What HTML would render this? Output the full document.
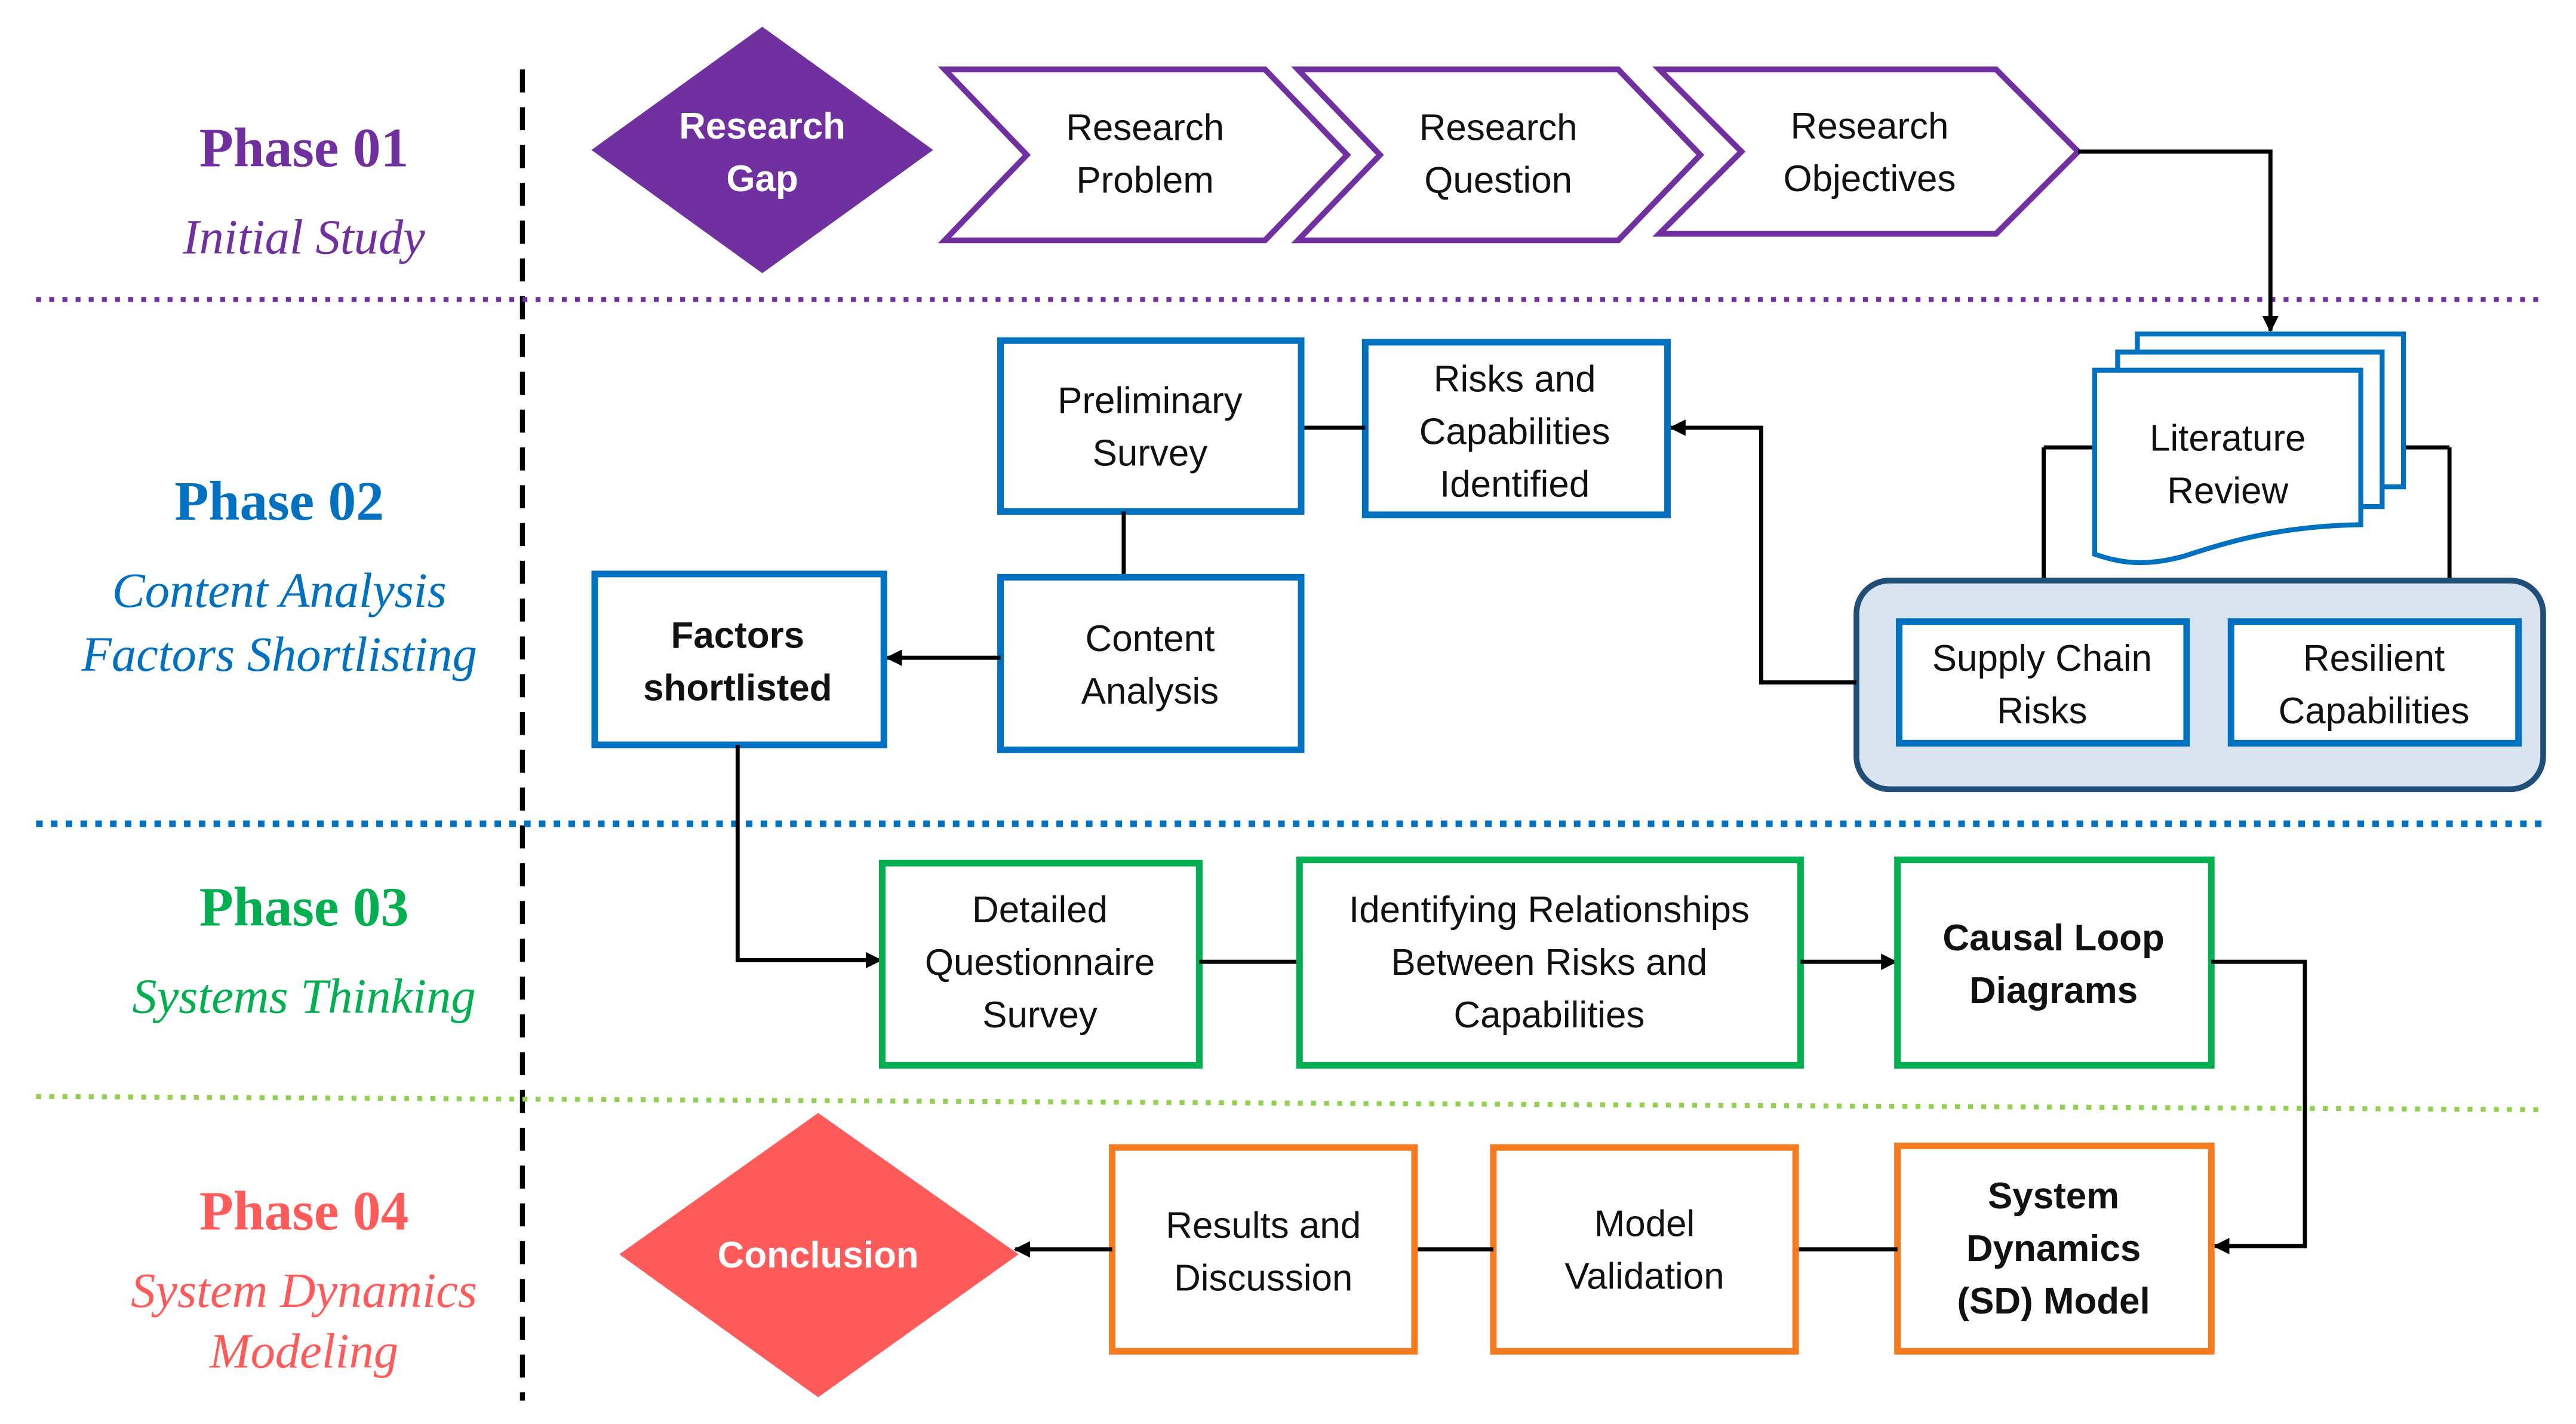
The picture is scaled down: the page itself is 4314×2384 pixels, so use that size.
<!DOCTYPE html>
<html><head><meta charset="utf-8"><style>
html,body{margin:0;padding:0;background:#fff;}
svg{display:block;}
.ph{font-family:"Liberation Serif",serif;font-weight:bold;font-size:34px;text-anchor:middle;}
.sub{font-family:"Liberation Serif",serif;font-style:italic;font-size:30px;text-anchor:middle;}
.t{font-family:"Liberation Sans",sans-serif;font-size:22.5px;text-anchor:middle;fill:#111;}
.b{font-weight:bold;}
</style></head><body>
<svg width="4314" height="2384" viewBox="0 0 1568 866" xmlns="http://www.w3.org/2000/svg">
<defs>
<marker id="ar" markerWidth="10" markerHeight="10" refX="9" refY="5" orient="auto" markerUnits="userSpaceOnUse"><path d="M0,0 L10,5 L0,10 z" fill="#000"/></marker>
</defs>
<rect width="1568" height="866" fill="#fff"/>
<line x1="318" y1="42" x2="318" y2="852" stroke="#000" stroke-width="3" stroke-dasharray="14,9"/>
<line x1="22" y1="182" x2="1548" y2="182" stroke="#7030A0" stroke-width="3" stroke-dasharray="3,5"/>
<line x1="22" y1="501" x2="1548" y2="501" stroke="#0070C0" stroke-width="4" stroke-dasharray="4,5"/>
<line x1="22" y1="667" x2="1548" y2="675" stroke="#92D050" stroke-width="3" stroke-dasharray="3,5"/>
<text class="ph" x="185" y="101" fill="#7030A0">Phase 01</text>
<text class="sub" x="185" y="154" fill="#7030A0">Initial Study</text>
<text class="ph" x="170" y="316" fill="#0070C0">Phase 02</text>
<text class="sub" x="170" y="369" fill="#0070C0">Content Analysis</text>
<text class="sub" x="170" y="408" fill="#0070C0">Factors Shortlisting</text>
<text class="ph" x="185" y="563" fill="#00B050">Phase 03</text>
<text class="sub" x="185" y="616" fill="#00B050">Systems Thinking</text>
<text class="ph" x="185" y="748" fill="#FF5B5B">Phase 04</text>
<text class="sub" x="185" y="795" fill="#FF5B5B">System Dynamics</text>
<text class="sub" x="185" y="832" fill="#FF5B5B">Modeling</text>
<polygon points="360,91 464,16 568,91 464,166" fill="#7030A0"/>
<text class="t b" x="464" y="84" style="fill:#fff">Research</text>
<text class="t b" x="464" y="116" style="fill:#fff">Gap</text>
<polygon points="575,42 770,42 820,94 770,146 575,146 625,94" fill="#fff" stroke="#7030A0" stroke-width="3.5"/>
<text class="t" x="697" y="85">Research</text><text class="t" x="697" y="117">Problem</text>
<polygon points="790,42 985,42 1035,94 985,146 790,146 840,94" fill="#fff" stroke="#7030A0" stroke-width="3.5"/>
<text class="t" x="912" y="85">Research</text><text class="t" x="912" y="117">Question</text>
<polygon points="1010,42 1215,42 1265,92 1215,142 1010,142 1060,92" fill="#fff" stroke="#7030A0" stroke-width="3.5"/>
<text class="t" x="1138" y="84">Research</text><text class="t" x="1138" y="116">Objectives</text>
<polyline points="1265,92 1382,92 1382,201" fill="none" stroke="#000" stroke-width="2.5" marker-end="url(#ar)"/>
<line x1="1275" y1="272" x2="1244" y2="272" stroke="#000" stroke-width="2.5"/>
<polyline points="1244,272 1244,378" fill="none" stroke="#000" stroke-width="2.5" marker-end="url(#ar)"/>
<line x1="1463" y1="272" x2="1491" y2="272" stroke="#000" stroke-width="2.5"/>
<polyline points="1491,272 1491,378" fill="none" stroke="#000" stroke-width="2.5" marker-end="url(#ar)"/>
<rect x="1301" y="203" width="162" height="93" fill="#fff" stroke="#0070C0" stroke-width="3"/>
<rect x="1289" y="214" width="161" height="94" fill="#fff" stroke="#0070C0" stroke-width="3"/>
<path d="M1275,225 L1437,225 L1437,319 C1390,320 1360,328 1330,338 C1305,345 1290,342 1275,337 Z" fill="#fff" stroke="#0070C0" stroke-width="3"/>
<text class="t" x="1356" y="274">Literature</text><text class="t" x="1356" y="306">Review</text>
<rect x="1130" y="353" width="418" height="127" rx="20" fill="#DAE3F0" stroke="#1F4E79" stroke-width="3.5"/>
<rect x="1156" y="378" width="175" height="74" fill="#fff" stroke="#0070C0" stroke-width="4"/>
<text class="t" x="1243" y="408">Supply Chain</text><text class="t" x="1243" y="440">Risks</text>
<rect x="1358" y="378" width="175" height="74" fill="#fff" stroke="#0070C0" stroke-width="4"/>
<text class="t" x="1445" y="408">Resilient</text><text class="t" x="1445" y="440">Capabilities</text>
<polyline points="1130,415 1072,415 1072,260 1017,260" fill="none" stroke="#000" stroke-width="2.5" marker-end="url(#ar)"/>
<rect x="831" y="208" width="184" height="105" fill="#fff" stroke="#0070C0" stroke-width="4"/>
<text class="t" x="922" y="238">Risks and</text><text class="t" x="922" y="270">Capabilities</text><text class="t" x="922" y="302">Identified</text>
<line x1="792" y1="260" x2="831" y2="260" stroke="#000" stroke-width="2.5"/>
<rect x="609" y="207" width="183" height="104" fill="#fff" stroke="#0070C0" stroke-width="4"/>
<text class="t" x="700" y="251">Preliminary</text><text class="t" x="700" y="283">Survey</text>
<line x1="684" y1="311" x2="684" y2="351" stroke="#000" stroke-width="2.5"/>
<rect x="609" y="351" width="183" height="105" fill="#fff" stroke="#0070C0" stroke-width="4"/>
<text class="t" x="700" y="396">Content</text><text class="t" x="700" y="428">Analysis</text>
<line x1="609" y1="400" x2="540" y2="400" stroke="#000" stroke-width="2.5" marker-end="url(#ar)"/>
<rect x="362" y="349" width="176" height="104" fill="#fff" stroke="#0070C0" stroke-width="4"/>
<text class="t b" x="449" y="394">Factors</text><text class="t b" x="449" y="426">shortlisted</text>
<polyline points="449,453 449,584 536,584" fill="none" stroke="#000" stroke-width="2.5" marker-end="url(#ar)"/>
<rect x="537" y="525" width="193" height="123" fill="#fff" stroke="#00B050" stroke-width="4"/>
<text class="t" x="633" y="561">Detailed</text><text class="t" x="633" y="593">Questionnaire</text><text class="t" x="633" y="625">Survey</text>
<line x1="730" y1="585" x2="791" y2="585" stroke="#000" stroke-width="2.5"/>
<rect x="791" y="523" width="305" height="125" fill="#fff" stroke="#00B050" stroke-width="4"/>
<text class="t" x="943" y="561">Identifying Relationships</text><text class="t" x="943" y="593">Between Risks and</text><text class="t" x="943" y="625">Capabilities</text>
<line x1="1096" y1="585" x2="1154" y2="585" stroke="#000" stroke-width="2.5" marker-end="url(#ar)"/>
<rect x="1155" y="523" width="191" height="125" fill="#fff" stroke="#00B050" stroke-width="4"/>
<text class="t b" x="1250" y="578">Causal Loop</text><text class="t b" x="1250" y="610">Diagrams</text>
<polyline points="1346,585 1403,585 1403,758 1348,758" fill="none" stroke="#000" stroke-width="2.5" marker-end="url(#ar)"/>
<rect x="1155" y="697" width="191" height="125" fill="#fff" stroke="#F47B20" stroke-width="4"/>
<text class="t b" x="1250" y="735">System</text><text class="t b" x="1250" y="767">Dynamics</text><text class="t b" x="1250" y="799">(SD) Model</text>
<line x1="1093" y1="760" x2="1155" y2="760" stroke="#000" stroke-width="2.5"/>
<rect x="909" y="698" width="184" height="124" fill="#fff" stroke="#F47B20" stroke-width="4"/>
<text class="t" x="1001" y="752">Model</text><text class="t" x="1001" y="784">Validation</text>
<line x1="861" y1="760" x2="909" y2="760" stroke="#000" stroke-width="2.5"/>
<rect x="677" y="698" width="184" height="124" fill="#fff" stroke="#F47B20" stroke-width="4"/>
<text class="t" x="769" y="753">Results and</text><text class="t" x="769" y="785">Discussion</text>
<line x1="677" y1="760" x2="618" y2="760" stroke="#000" stroke-width="2.5" marker-end="url(#ar)"/>
<polygon points="377,763 498,677 620,763 498,850" fill="#FF5B5B"/>
<text class="t b" x="498" y="771" style="fill:#fff">Conclusion</text>
</svg>
</body></html>
